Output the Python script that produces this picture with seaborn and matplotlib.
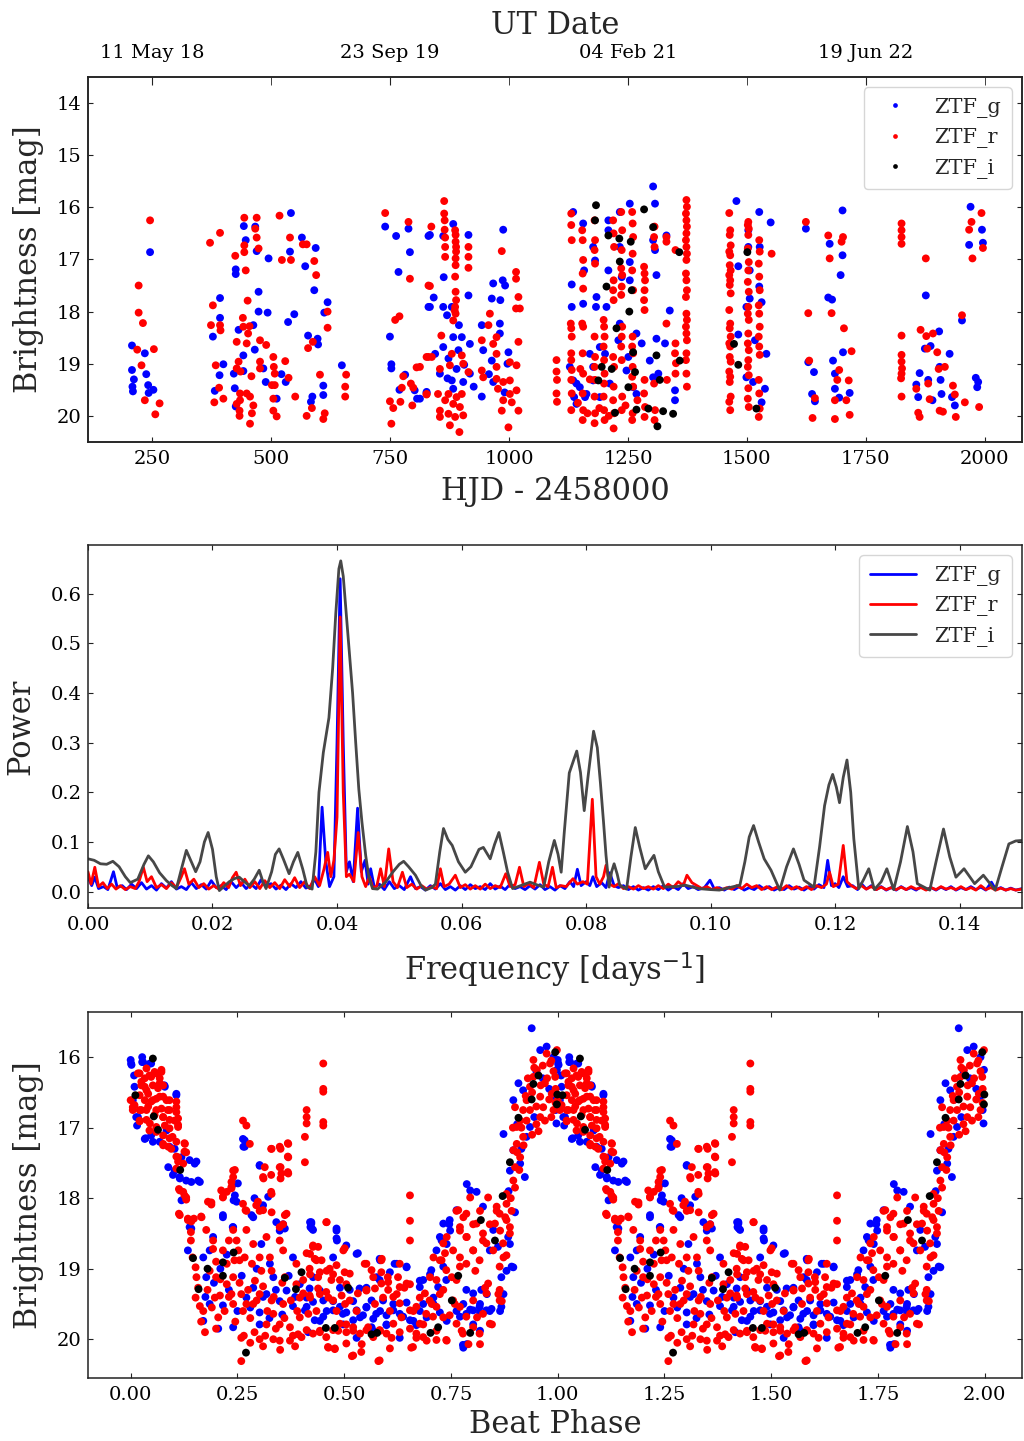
import pandas as pd
import seaborn as sns
import matplotlib.pyplot as plt

# light curve (HJD - 2458000, mag)
g_top = [
    (208, 18.65), (246, 16.86), (235, 18.8), (208, 19.12), (212, 19.3), (238, 19.2), (209, 19.44), (210, 19.53),
    (242, 19.41), (253, 19.5), (243, 19.56),
    (542, 16.11), (443, 16.36), (447, 16.63), (470, 16.84), (467, 16.37), (565, 16.58), (594, 16.78), (540, 16.85),
    (495, 16.98), (572, 17.13), (426, 17.19), (426, 17.28), (591, 17.59), (474, 17.62), (393, 17.74), (619, 17.82),
    (474, 18.0), (493, 18.02), (549, 18.05), (536, 18.2), (393, 18.12), (612, 18.02), (378, 18.48), (432, 18.35),
    (463, 18.26), (578, 18.46), (598, 18.52), (599, 18.63), (466, 18.73), (400, 19.01), (392, 19.22), (442, 18.84),
    (649, 19.03), (422, 19.19), (442, 19.14), (489, 19.35), (522, 19.2), (531, 19.35), (610, 19.42), (610, 19.6),
    (587, 19.63), (584, 19.73), (382, 19.52), (424, 19.47), (426, 19.82), (512, 19.67), (484, 19.09),
    (740, 16.37), (763, 16.55), (789, 16.41), (792, 16.86), (768, 17.24), (831, 17.91), (750, 18.48), (753, 19.01),
    (753, 19.09), (782, 19.21), (770, 19.5), (802, 19.51), (807, 19.67), (827, 19.56), (831, 16.55), (883, 16.32),
    (834, 16.53), (862, 16.55), (915, 16.53), (863, 17.34), (915, 17.69), (842, 17.73), (834, 17.91), (862, 17.91),
    (880, 17.91), (870, 18.07), (895, 18.26), (988, 16.43), (967, 17.46), (987, 17.4), (992, 17.5), (964, 17.75),
    (982, 17.78), (943, 18.26), (981, 18.23), (981, 18.42), (999, 18.78), (997, 19.0), (883, 18.49), (901, 18.49),
    (918, 18.62), (862, 18.68), (946, 18.74), (964, 18.94), (845, 18.81), (894, 18.74), (873, 18.9), (918, 19.19),
    (855, 19.19), (904, 19.35), (880, 19.32), (827, 19.54), (943, 19.63), (883, 19.48), (967, 19.35), (813, 19.67),
    (890, 19.1), (906, 19.02), (871, 19.28), (926, 19.44), (958, 19.2), (991, 19.55),
    (1132, 17.48), (1132, 17.91), (1128, 19.06), (1135, 19.32), (1137, 19.64), (1156, 17.85), (1158, 17.21),
    (1156, 16.31), (1135, 16.09), (1177, 16.76), (1181, 17.02), (1184, 17.72), (1183, 17.91), (1170, 18.81),
    (1177, 19.06), (1177, 19.32), (1163, 19.58), (1149, 19.45), (1160, 19.64), (1191, 18.68), (1202, 18.81),
    (1205, 17.91), (1209, 17.21), (1209, 16.25), (1209, 16.44), (1233, 16.09), (1233, 16.76), (1237, 17.34),
    (1233, 18.23), (1230, 18.55), (1254, 15.93), (1254, 17.05), (1254, 17.4), (1251, 18.87), (1247, 19.13),
    (1261, 19.45), (1268, 19.58), (1268, 18.42), (1279, 18.61), (1303, 15.6), (1307, 15.93), (1303, 16.63),
    (1307, 16.82), (1303, 19.26), (1296, 18.94), (1310, 17.3), (1310, 18.52), (1328, 18.61), (1331, 16.54),
    (1338, 17.98), (1349, 19.51), (1349, 19.7), (1314, 19.19), (1191, 19.64), (1212, 19.38), (1142, 19.38),
    (1142, 19.77),
    (1478, 15.88), (1526, 16.09), (1550, 16.29), (1503, 16.44), (1503, 16.76), (1527, 16.76), (1482, 17.13),
    (1506, 17.21), (1506, 17.75), (1531, 17.82), (1499, 17.91), (1526, 17.52), (1482, 18.44), (1517, 18.55),
    (1541, 18.81), (1499, 19.26), (1513, 19.35), (1538, 19.48), (1531, 19.74),
    (1624, 16.41), (1701, 16.06), (1674, 16.7), (1701, 16.92), (1697, 17.3), (1671, 17.73), (1679, 17.77),
    (1702, 18.78), (1629, 18.97), (1641, 19.16), (1681, 18.94), (1685, 19.19), (1685, 19.48), (1716, 19.56),
    (1637, 19.58), (1643, 19.72), (1694, 19.65),
    (1970, 15.99), (1994, 16.43), (1967, 16.72), (1996, 16.68), (1876, 17.69), (1904, 18.38), (1952, 18.17),
    (1874, 18.71), (1886, 18.66), (1926, 18.81), (1905, 19.06), (1863, 19.18), (1907, 19.31), (1856, 19.4),
    (1881, 19.31), (1981, 19.27), (1986, 19.35), (1984, 19.45), (1909, 19.58), (1860, 19.64), (1890, 19.7),
    (1931, 19.64), (1937, 19.8),
]
r_top = [
    (246, 16.25), (222, 17.5), (222, 18.02), (231, 18.22), (219, 18.73), (254, 18.72), (228, 19.03), (235, 19.7),
    (266, 19.76), (257, 19.97),
    (372, 16.68), (393, 16.49), (444, 16.2), (470, 16.2), (518, 16.16), (467, 16.41), (470, 16.58), (474, 16.79),
    (444, 16.73), (444, 16.86), (425, 16.93), (447, 17.21), (523, 17.01), (542, 17.01), (540, 16.58), (567, 16.71),
    (575, 16.71), (591, 17.03), (595, 17.3), (451, 17.79), (378, 17.88), (374, 18.26), (393, 18.26), (394, 18.36),
    (441, 18.12), (442, 18.29), (455, 18.28), (452, 18.42), (449, 18.61), (477, 18.55), (490, 18.64), (428, 18.58),
    (619, 18.0), (619, 18.31), (588, 18.58), (578, 18.7), (384, 19.03), (432, 18.96), (428, 19.09), (436, 19.15),
    (477, 18.96), (477, 19.09), (505, 18.87), (530, 18.95), (506, 19.06), (508, 19.19), (459, 19.24), (537, 19.27),
    (508, 19.41), (603, 19.21), (658, 19.21), (656, 19.44), (656, 19.63), (551, 19.63), (391, 19.46), (400, 19.67),
    (381, 19.74), (435, 19.57), (435, 19.7), (449, 19.57), (456, 19.63), (428, 19.77), (434, 19.9), (434, 20.0),
    (463, 19.8), (460, 19.95), (456, 20.15), (505, 19.67), (505, 19.9), (512, 20.01), (586, 19.85), (575, 20.0),
    (613, 19.95), (610, 20.06), (502, 19.41),
    (740, 16.11), (789, 16.28), (792, 17.37), (761, 18.16), (770, 18.09), (831, 17.5), (831, 18.87), (806, 19.07),
    (778, 19.24), (794, 19.38), (775, 19.46), (799, 19.46), (750, 19.72), (757, 19.85), (772, 19.73), (797, 19.8),
    (753, 20.15), (827, 19.59),
    (864, 15.88), (864, 16.12), (865, 16.25), (865, 16.43), (866, 16.58), (866, 16.76), (866, 16.95),
    (887, 16.44), (888, 16.53), (888, 16.66), (889, 16.76), (889, 16.85), (888, 16.98), (888, 17.11), (887, 17.33),
    (888, 17.62), (889, 17.78), (887, 17.91), (888, 18.04), (915, 16.76), (915, 16.95), (915, 17.16),
    (837, 16.37), (985, 16.84), (1015, 17.24), (1015, 17.37), (1020, 17.72), (1015, 17.94), (1023, 17.94),
    (834, 17.51), (886, 17.98), (883, 18.17), (960, 18.04), (957, 18.26), (974, 18.49), (858, 18.46), (967, 18.62),
    (1020, 18.58), (943, 18.55), (838, 18.87), (827, 18.87), (880, 18.81), (901, 18.84), (876, 19.03), (904, 19.0),
    (915, 19.16), (855, 19.1), (943, 19.13), (946, 19.26), (974, 18.81), (974, 19.06), (1002, 18.97), (1016, 19.03),
    (974, 19.29), (988, 19.35), (1002, 19.32), (1016, 19.51), (1002, 19.58), (977, 19.48), (988, 19.7),
    (1006, 19.74), (1020, 19.9), (985, 19.9), (999, 20.22), (851, 19.58), (873, 19.58), (890, 19.64), (901, 19.58),
    (866, 19.7), (883, 19.77), (897, 19.83), (855, 19.9), (873, 19.96), (887, 20.02), (904, 19.99), (876, 20.18),
    (896, 20.31), (855, 20.02), (827, 19.58), (813, 19.06),
    (1100, 18.93), (1100, 19.15), (1101, 19.31), (1100, 19.57), (1101, 19.73),
    (1131, 16.12), (1131, 16.34), (1132, 16.63), (1130, 18.23), (1131, 18.32), (1132, 18.48), (1131, 18.8),
    (1131, 18.93), (1132, 19.12), (1131, 19.31), (1132, 19.57), (1131, 19.89),
    (1154, 16.44), (1155, 16.63), (1156, 17.01), (1155, 17.27), (1156, 17.56), (1154, 18.23), (1156, 18.29),
    (1155, 18.8), (1156, 19.19), (1155, 19.57), (1156, 19.89), (1155, 20.08),
    (1180, 16.25), (1181, 16.63), (1180, 16.82), (1181, 17.08), (1180, 18.48), (1181, 18.87), (1180, 19.06),
    (1181, 19.31), (1180, 19.63), (1181, 19.95), (1180, 20.14),
    (1199, 18.16), (1200, 18.29), (1201, 18.48), (1199, 18.67), (1200, 18.93), (1201, 19.19), (1200, 19.38),
    (1199, 19.63), (1200, 19.89), (1201, 20.08),
    (1219, 16.25), (1220, 16.5), (1221, 16.76), (1220, 17.4), (1219, 17.59), (1220, 17.78), (1219, 18.87),
    (1221, 19.06), (1220, 19.44), (1219, 19.7), (1221, 19.95), (1220, 20.24),
    (1236, 16.09), (1238, 16.44), (1237, 16.82), (1236, 17.17), (1238, 17.3), (1237, 17.52), (1236, 17.68),
    (1238, 18.29), (1237, 18.48), (1236, 18.67), (1237, 18.93), (1238, 19.63), (1237, 19.89),
    (1259, 16.09), (1260, 16.31), (1261, 16.57), (1260, 16.89), (1259, 17.21), (1261, 17.59), (1260, 18.48),
    (1259, 18.67), (1261, 18.8), (1260, 19.06), (1259, 19.25), (1261, 19.44), (1260, 19.95), (1259, 20.08),
    (1284, 17.14), (1285, 17.27), (1286, 17.4), (1285, 17.59), (1284, 17.78), (1285, 17.97), (1285, 19.31),
    (1284, 19.57), (1286, 19.83), (1285, 20.02),
    (1306, 16.37), (1305, 16.57), (1306, 16.76), (1305, 19.38), (1307, 19.89), (1306, 20.08),
    (1331, 16.57), (1331, 16.66), (1331, 18.23), (1332, 19.31), (1350, 16.82), (1350, 18.61), (1349, 18.8),
    (1351, 18.99), (1350, 19.19),
    (1373, 15.86), (1374, 15.99), (1372, 16.12), (1373, 16.25), (1374, 16.37), (1373, 16.5), (1372, 16.63),
    (1373, 16.76), (1374, 16.89), (1373, 17.01), (1372, 17.27), (1373, 17.4), (1374, 17.59), (1372, 17.72),
    (1373, 18.04), (1374, 18.16), (1372, 18.29), (1373, 18.42), (1374, 18.55), (1373, 18.8), (1372, 18.93),
    (1373, 19.19), (1374, 19.44),
    (1145, 19.75), (1165, 19.95), (1190, 19.85), (1210, 20.0), (1245, 19.8), (1270, 19.7), (1150, 19.1),
    (1170, 19.3),
    (1463, 16.11), (1465, 16.44), (1464, 16.53), (1466, 16.73), (1463, 16.85), (1465, 16.92), (1464, 17.11),
    (1466, 17.21), (1463, 17.3), (1465, 17.4), (1464, 17.49), (1466, 17.65), (1463, 17.97), (1465, 18.23),
    (1464, 18.32), (1466, 18.48), (1463, 18.61), (1465, 18.67), (1464, 18.87), (1466, 18.96), (1463, 19.15),
    (1465, 19.25), (1464, 19.35), (1466, 19.63), (1463, 19.73), (1465, 19.89),
    (1503, 16.28), (1502, 16.34), (1504, 16.41), (1503, 16.53), (1502, 16.79), (1504, 17.05), (1503, 17.21),
    (1502, 17.43), (1504, 17.62), (1503, 17.91), (1502, 18.04), (1504, 18.16), (1503, 18.42), (1502, 18.61),
    (1504, 18.74), (1503, 18.93), (1502, 19.06), (1504, 19.22), (1503, 19.47), (1502, 19.67), (1504, 19.83),
    (1526, 16.63), (1527, 16.85), (1525, 17.08), (1526, 17.33), (1527, 17.59), (1525, 17.88), (1526, 18.04),
    (1527, 18.29), (1525, 18.48), (1526, 18.67), (1527, 18.83), (1525, 19.31), (1526, 19.57), (1527, 19.86),
    (1525, 20.02), (1552, 16.89),
    (1624, 16.28), (1671, 16.54), (1702, 16.57), (1699, 16.66), (1674, 16.98), (1629, 18.03), (1678, 18.03),
    (1704, 18.32), (1631, 18.94), (1694, 19.12), (1690, 19.31), (1714, 19.32), (1720, 18.76), (1643, 19.66),
    (1685, 19.7), (1709, 19.7), (1638, 20.04), (1685, 20.06), (1716, 19.98),
    (1825, 16.31), (1825, 16.44), (1825, 16.57), (1825, 16.7), (1825, 18.46), (1825, 18.83), (1825, 18.96),
    (1826, 19.09), (1825, 19.19), (1824, 19.28), (1825, 19.63), (1876, 16.98), (1952, 18.07), (1865, 18.35),
    (1877, 18.47), (1891, 18.42), (1879, 18.71), (1900, 18.78), (1903, 19.1), (1916, 19.06), (1856, 19.48),
    (1881, 19.38), (1933, 19.42), (1884, 19.68), (1905, 19.9), (1912, 19.92), (1937, 19.59), (1958, 19.74),
    (1860, 19.94), (1863, 20.02), (1939, 20.02), (1988, 19.83), (1972, 16.28), (1967, 16.43), (1993, 16.11),
    (1996, 16.78), (1974, 16.98),
]
i_top = [
    (1183, 15.96), (1181, 16.25), (1209, 16.54), (1232, 16.6), (1256, 16.66), (1303, 16.38), (1284, 16.04),
    (1233, 17.04), (1205, 17.52), (1258, 17.59), (1253, 18.0), (1226, 18.32), (1261, 18.78), (1195, 19.06),
    (1216, 19.1), (1188, 19.32), (1265, 19.16), (1310, 18.84), (1359, 18.94), (1358, 16.86), (1251, 19.45),
    (1223, 19.94), (1268, 19.88), (1293, 19.86), (1324, 19.91), (1345, 19.96), (1312, 20.2), (1317, 19.31),
    (1501, 16.86), (1473, 18.62), (1482, 19.02), (1520, 19.86),
]

# Lomb-Scargle periodogram vertices (frequency [1/d], power)
g_pg = [
    (0.0000, 0.030), (0.0006, 0.012), (0.0011, 0.029), (0.0017, 0.006), (0.0025, 0.010), (0.0032, 0.004),
    (0.0041, 0.040), (0.0047, 0.008), (0.0055, 0.012), (0.0062, 0.004), (0.0070, 0.015), (0.0078, 0.006),
    (0.0086, 0.018), (0.0094, 0.005), (0.0102, 0.012), (0.0110, 0.003), (0.0118, 0.016), (0.0126, 0.007),
    (0.0134, 0.020), (0.0142, 0.005), (0.0150, 0.010), (0.0158, 0.004), (0.0166, 0.018), (0.0174, 0.006),
    (0.0182, 0.014), (0.0190, 0.005), (0.0198, 0.022), (0.0206, 0.008), (0.0214, 0.012), (0.0222, 0.004),
    (0.0230, 0.020), (0.0238, 0.008), (0.0246, 0.018), (0.0254, 0.006), (0.0262, 0.015), (0.0270, 0.006),
    (0.0278, 0.024), (0.0286, 0.010), (0.0294, 0.016), (0.0302, 0.005), (0.0310, 0.013), (0.0318, 0.004),
    (0.0326, 0.016), (0.0334, 0.008), (0.0342, 0.020), (0.0350, 0.007), (0.0358, 0.012), (0.0364, 0.025),
    (0.0370, 0.010), (0.0376, 0.170), (0.0382, 0.060), (0.0388, 0.010), (0.0395, 0.030), (0.0400, 0.300),
    (0.0405, 0.630), (0.0410, 0.300), (0.0415, 0.040), (0.0420, 0.060), (0.0426, 0.020), (0.0433, 0.168),
    (0.0439, 0.040), (0.0445, 0.063), (0.0450, 0.015), (0.0454, 0.046), (0.0460, 0.008), (0.0468, 0.015),
    (0.0476, 0.004), (0.0484, 0.020), (0.0492, 0.006), (0.0500, 0.012), (0.0508, 0.004), (0.0518, 0.030),
    (0.0526, 0.006), (0.0534, 0.010), (0.0542, 0.003), (0.0550, 0.012), (0.0558, 0.005), (0.0566, 0.016),
    (0.0574, 0.004), (0.0582, 0.010), (0.0590, 0.003), (0.0598, 0.012), (0.0606, 0.004), (0.0614, 0.014),
    (0.0622, 0.006), (0.0630, 0.010), (0.0638, 0.004), (0.0646, 0.016), (0.0654, 0.005), (0.0662, 0.011),
    (0.0670, 0.004), (0.0678, 0.015), (0.0686, 0.006), (0.0694, 0.010), (0.0702, 0.004), (0.0710, 0.012),
    (0.0718, 0.005), (0.0726, 0.014), (0.0734, 0.004), (0.0742, 0.010), (0.0750, 0.003), (0.0758, 0.012),
    (0.0766, 0.006), (0.0774, 0.020), (0.0780, 0.010), (0.0786, 0.045), (0.0792, 0.012), (0.0800, 0.020),
    (0.0806, 0.012), (0.0811, 0.030), (0.0817, 0.010), (0.0825, 0.018), (0.0832, 0.008), (0.0838, 0.038),
    (0.0845, 0.012), (0.0852, 0.008), (0.0860, 0.012), (0.0868, 0.004), (0.0876, 0.010), (0.0884, 0.003),
    (0.0892, 0.008), (0.0900, 0.003), (0.0908, 0.010), (0.0916, 0.004), (0.0924, 0.012), (0.0932, 0.003),
    (0.0940, 0.010), (0.0948, 0.004), (0.0956, 0.016), (0.0964, 0.006), (0.0972, 0.010), (0.0980, 0.004),
    (0.0990, 0.008), (0.0999, 0.023), (0.1006, 0.005), (0.1014, 0.008), (0.1022, 0.003), (0.1030, 0.009),
    (0.1038, 0.004), (0.1046, 0.010), (0.1054, 0.003), (0.1062, 0.008), (0.1070, 0.004), (0.1078, 0.012),
    (0.1086, 0.005), (0.1094, 0.010), (0.1102, 0.003), (0.1110, 0.008), (0.1118, 0.004), (0.1126, 0.012),
    (0.1134, 0.005), (0.1142, 0.009), (0.1150, 0.003), (0.1158, 0.010), (0.1166, 0.005), (0.1174, 0.014),
    (0.1182, 0.008), (0.1188, 0.063), (0.1194, 0.012), (0.1200, 0.016), (0.1206, 0.008), (0.1213, 0.030),
    (0.1220, 0.010), (0.1228, 0.012), (0.1236, 0.004), (0.1242, 0.016), (0.1250, 0.005), (0.1258, 0.012),
    (0.1266, 0.004), (0.1274, 0.010), (0.1282, 0.003), (0.1290, 0.008), (0.1298, 0.003), (0.1306, 0.010),
    (0.1314, 0.004), (0.1322, 0.008), (0.1330, 0.003), (0.1338, 0.010), (0.1346, 0.004), (0.1354, 0.008),
    (0.1362, 0.003), (0.1370, 0.009), (0.1378, 0.004), (0.1386, 0.010), (0.1394, 0.003), (0.1402, 0.008),
    (0.1410, 0.004), (0.1418, 0.010), (0.1426, 0.004), (0.1434, 0.009), (0.1442, 0.003), (0.1451, 0.019),
    (0.1458, 0.004), (0.1466, 0.008), (0.1474, 0.003), (0.1482, 0.007), (0.1490, 0.003), (0.1500, 0.006),
]
r_pg = [
    (0.0000, 0.040), (0.0005, 0.015), (0.0011, 0.049), (0.0017, 0.010), (0.0024, 0.018), (0.0031, 0.006),
    (0.0038, 0.015), (0.0045, 0.005), (0.0052, 0.012), (0.0060, 0.004), (0.0068, 0.010), (0.0076, 0.006),
    (0.0082, 0.020), (0.0089, 0.049), (0.0095, 0.020), (0.0102, 0.030), (0.0110, 0.008), (0.0118, 0.014),
    (0.0126, 0.006), (0.0134, 0.018), (0.0142, 0.008), (0.0150, 0.030), (0.0155, 0.046), (0.0162, 0.015),
    (0.0170, 0.025), (0.0178, 0.008), (0.0186, 0.016), (0.0194, 0.005), (0.0202, 0.012), (0.0210, 0.005),
    (0.0218, 0.018), (0.0226, 0.008), (0.0232, 0.028), (0.0238, 0.039), (0.0245, 0.012), (0.0252, 0.025),
    (0.0260, 0.008), (0.0268, 0.020), (0.0276, 0.006), (0.0284, 0.022), (0.0292, 0.008), (0.0300, 0.018),
    (0.0308, 0.006), (0.0316, 0.024), (0.0324, 0.010), (0.0332, 0.028), (0.0340, 0.008), (0.0348, 0.020),
    (0.0356, 0.006), (0.0364, 0.030), (0.0372, 0.012), (0.0379, 0.045), (0.0385, 0.079), (0.0390, 0.030),
    (0.0395, 0.063), (0.0400, 0.150), (0.0405, 0.553), (0.0410, 0.200), (0.0415, 0.030), (0.0420, 0.035),
    (0.0427, 0.020), (0.0434, 0.119), (0.0440, 0.030), (0.0446, 0.010), (0.0452, 0.030), (0.0458, 0.006),
    (0.0464, 0.012), (0.0470, 0.046), (0.0476, 0.010), (0.0483, 0.086), (0.0490, 0.020), (0.0497, 0.008),
    (0.0505, 0.039), (0.0512, 0.008), (0.0520, 0.015), (0.0528, 0.005), (0.0536, 0.012), (0.0544, 0.005),
    (0.0552, 0.010), (0.0560, 0.006), (0.0566, 0.046), (0.0572, 0.010), (0.0580, 0.015), (0.0590, 0.033),
    (0.0598, 0.008), (0.0606, 0.014), (0.0614, 0.005), (0.0622, 0.012), (0.0630, 0.005), (0.0638, 0.015),
    (0.0646, 0.006), (0.0654, 0.012), (0.0662, 0.008), (0.0671, 0.036), (0.0678, 0.010), (0.0686, 0.014),
    (0.0693, 0.049), (0.0700, 0.010), (0.0708, 0.016), (0.0716, 0.008), (0.0725, 0.059), (0.0732, 0.015),
    (0.0739, 0.010), (0.0746, 0.049), (0.0752, 0.008), (0.0760, 0.012), (0.0768, 0.010), (0.0779, 0.026),
    (0.0786, 0.015), (0.0795, 0.020), (0.0802, 0.015), (0.0810, 0.186), (0.0816, 0.030), (0.0822, 0.015),
    (0.0828, 0.030), (0.0832, 0.053), (0.0838, 0.015), (0.0845, 0.010), (0.0852, 0.016), (0.0860, 0.006),
    (0.0868, 0.010), (0.0876, 0.005), (0.0884, 0.012), (0.0892, 0.006), (0.0900, 0.010), (0.0908, 0.005),
    (0.0916, 0.012), (0.0924, 0.006), (0.0932, 0.015), (0.0940, 0.008), (0.0948, 0.020), (0.0956, 0.012),
    (0.0962, 0.033), (0.0970, 0.018), (0.0978, 0.012), (0.0986, 0.006), (0.0994, 0.010), (0.1002, 0.004),
    (0.1010, 0.008), (0.1018, 0.004), (0.1026, 0.008), (0.1034, 0.005), (0.1042, 0.012), (0.1050, 0.006),
    (0.1058, 0.015), (0.1066, 0.008), (0.1074, 0.012), (0.1082, 0.004), (0.1090, 0.010), (0.1098, 0.004),
    (0.1106, 0.009), (0.1114, 0.004), (0.1122, 0.012), (0.1130, 0.005), (0.1138, 0.010), (0.1146, 0.004),
    (0.1154, 0.010), (0.1162, 0.004), (0.1170, 0.012), (0.1178, 0.008), (0.1186, 0.015), (0.1191, 0.039),
    (0.1197, 0.010), (0.1205, 0.015), (0.1213, 0.093), (0.1219, 0.020), (0.1226, 0.012), (0.1234, 0.006),
    (0.1242, 0.012), (0.1250, 0.005), (0.1258, 0.010), (0.1266, 0.004), (0.1274, 0.009), (0.1282, 0.004),
    (0.1290, 0.008), (0.1298, 0.004), (0.1306, 0.009), (0.1314, 0.004), (0.1322, 0.010), (0.1330, 0.005),
    (0.1338, 0.008), (0.1346, 0.003), (0.1354, 0.008), (0.1362, 0.004), (0.1370, 0.010), (0.1378, 0.005),
    (0.1386, 0.008), (0.1394, 0.004), (0.1402, 0.010), (0.1410, 0.004), (0.1418, 0.008), (0.1426, 0.003),
    (0.1434, 0.012), (0.1442, 0.004), (0.1450, 0.008), (0.1458, 0.003), (0.1466, 0.007), (0.1474, 0.003),
    (0.1482, 0.006), (0.1490, 0.003), (0.1500, 0.005),
]
i_pg = [
    (0.0000, 0.066), (0.0010, 0.063), (0.0020, 0.056), (0.0030, 0.055), (0.0040, 0.061), (0.0050, 0.050),
    (0.0060, 0.030), (0.0068, 0.018), (0.0080, 0.025), (0.0090, 0.055), (0.0097, 0.072), (0.0105, 0.060),
    (0.0115, 0.038), (0.0126, 0.022), (0.0135, 0.012), (0.0142, 0.006), (0.0150, 0.045), (0.0158, 0.083),
    (0.0166, 0.060), (0.0173, 0.040), (0.0180, 0.060), (0.0187, 0.100), (0.0193, 0.119), (0.0200, 0.085),
    (0.0206, 0.030), (0.0211, 0.002), (0.0220, 0.012), (0.0227, 0.020), (0.0235, 0.026), (0.0243, 0.029),
    (0.0251, 0.020), (0.0259, 0.012), (0.0267, 0.025), (0.0275, 0.043), (0.0281, 0.020), (0.0286, 0.006),
    (0.0295, 0.040), (0.0301, 0.075), (0.0307, 0.086), (0.0314, 0.065), (0.0323, 0.036), (0.0330, 0.060),
    (0.0337, 0.079), (0.0345, 0.045), (0.0352, 0.010), (0.0360, 0.005), (0.0366, 0.080), (0.0371, 0.200),
    (0.0378, 0.280), (0.0387, 0.350), (0.0393, 0.450), (0.0398, 0.560), (0.0403, 0.650), (0.0406, 0.666),
    (0.0410, 0.635), (0.0414, 0.573), (0.0420, 0.480), (0.0425, 0.400), (0.0430, 0.300), (0.0435, 0.206),
    (0.0440, 0.140), (0.0446, 0.073), (0.0451, 0.030), (0.0457, 0.006), (0.0465, 0.005), (0.0478, 0.019),
    (0.0490, 0.040), (0.0500, 0.055), (0.0507, 0.061), (0.0515, 0.050), (0.0526, 0.033), (0.0535, 0.012),
    (0.0542, 0.003), (0.0552, 0.008), (0.0558, 0.015), (0.0565, 0.080), (0.0571, 0.127), (0.0578, 0.105),
    (0.0585, 0.093), (0.0595, 0.060), (0.0606, 0.039), (0.0615, 0.050), (0.0628, 0.085), (0.0635, 0.089),
    (0.0646, 0.066), (0.0653, 0.095), (0.0660, 0.119), (0.0667, 0.080), (0.0674, 0.039), (0.0682, 0.006),
    (0.0695, 0.012), (0.0710, 0.019), (0.0720, 0.014), (0.0732, 0.009), (0.0740, 0.060), (0.0749, 0.103),
    (0.0755, 0.075), (0.0760, 0.039), (0.0765, 0.120), (0.0773, 0.239), (0.0785, 0.283), (0.0791, 0.240),
    (0.0797, 0.163), (0.0803, 0.230), (0.0812, 0.323), (0.0818, 0.290), (0.0823, 0.219), (0.0828, 0.140),
    (0.0832, 0.073), (0.0837, 0.009), (0.0841, 0.040), (0.0845, 0.056), (0.0850, 0.035), (0.0854, 0.013),
    (0.0865, 0.005), (0.0872, 0.070), (0.0879, 0.129), (0.0886, 0.090), (0.0895, 0.046), (0.0902, 0.060),
    (0.0909, 0.073), (0.0916, 0.040), (0.0926, 0.009), (0.0945, 0.010), (0.0959, 0.013), (0.0981, 0.006),
    (0.1000, 0.004), (0.1014, 0.003), (0.1030, 0.008), (0.1047, 0.013), (0.1055, 0.060), (0.1062, 0.110),
    (0.1069, 0.133), (0.1077, 0.100), (0.1086, 0.066), (0.1097, 0.043), (0.1111, 0.003), (0.1122, 0.050),
    (0.1133, 0.086), (0.1142, 0.055), (0.1150, 0.023), (0.1166, 0.009), (0.1175, 0.090), (0.1183, 0.173),
    (0.1190, 0.215), (0.1196, 0.236), (0.1202, 0.210), (0.1207, 0.179), (0.1213, 0.230), (0.1219, 0.265),
    (0.1225, 0.200), (0.1230, 0.106), (0.1238, 0.006), (0.1246, 0.025), (0.1254, 0.046), (0.1263, 0.004),
    (0.1274, 0.020), (0.1283, 0.046), (0.1294, 0.004), (0.1305, 0.060), (0.1316, 0.131), (0.1325, 0.080),
    (0.1332, 0.016), (0.1352, 0.003), (0.1362, 0.060), (0.1374, 0.126), (0.1384, 0.070), (0.1394, 0.029),
    (0.1407, 0.046), (0.1424, 0.016), (0.1438, 0.033), (0.1457, 0.003), (0.1468, 0.050), (0.1479, 0.096),
    (0.1490, 0.102), (0.1500, 0.103),
]

# folded light curve (beat phase 0-1, mag); shown twice, 0-2
g_phase = [
    (0.0, 16.04), (0.001, 16.09), (0.027, 16.0), (0.029, 16.07), (0.045, 16.09), (0.008, 16.26), (0.009, 16.42),
    (0.005, 16.61), (0.013, 16.85), (0.015, 16.97), (0.033, 17.16), (0.048, 17.11), (0.068, 17.2), (0.084, 17.04),
    (0.107, 16.52), (0.08, 16.42), (0.088, 17.56), (0.103, 17.61), (0.115, 17.7), (0.13, 17.75), (0.142, 17.77),
    (0.158, 17.75), (0.119, 18.03), (0.15, 17.51), (0.138, 17.46), (0.119, 17.42), (0.091, 17.27),
    (0.002, 16.11), (0.027, 16.07), (0.048, 16.09), (0.079, 16.4), (0.107, 16.54), (0.017, 16.85), (0.035, 17.15),
    (0.052, 17.2), (0.103, 17.3), (0.154, 17.48), (0.099, 17.67), (0.115, 17.72), (0.162, 17.77),
    (0.267, 17.18), (0.267, 17.27), (0.302, 17.53), (0.251, 17.79), (0.244, 17.96), (0.248, 18.05), (0.29, 18.0),
    (0.322, 17.98), (0.31, 18.1), (0.283, 18.24), (0.216, 18.24), (0.142, 18.43), (0.24, 18.41), (0.341, 18.34),
    (0.361, 18.43), (0.423, 18.34), (0.424, 18.43), (0.482, 18.43),
    (0.873, 17.09), (0.888, 17.61), (0.896, 17.32), (0.912, 17.51), (0.923, 17.7), (0.927, 17.13), (0.935, 16.99),
    (0.919, 16.47), (0.908, 16.37), (0.896, 16.61), (0.959, 15.9), (0.974, 15.85), (0.99, 16.0), (0.998, 16.18),
    (0.997, 16.94), (0.939, 15.59), (0.888, 18.65), (0.896, 18.98), (0.873, 19.36), (0.865, 19.6), (0.88, 19.03),
    (0.841, 18.74), (0.834, 19.36), (0.818, 19.62), (0.802, 19.79), (0.787, 20.07), (0.787, 17.8), (0.795, 17.89),
    (0.81, 17.91), (0.746, 18.37), (0.748, 18.46), (0.74, 18.65), (0.728, 18.6), (0.716, 18.74), (0.677, 19.17),
    (0.701, 19.08), (0.646, 18.98), (0.623, 18.93), (0.584, 18.88), (0.576, 19.12), (0.552, 19.27), (0.529, 18.79),
    (0.482, 18.46), (0.483, 18.6), (0.474, 18.84), (0.42, 18.34), (0.421, 18.41), (0.38, 18.84), (0.357, 18.37),
    (0.349, 18.46), (0.326, 18.93), (0.306, 18.65), (0.287, 18.27), (0.302, 17.54), (0.263, 17.16), (0.264, 17.27),
    (0.24, 17.8), (0.241, 18.03), (0.239, 18.41), (0.216, 18.27), (0.193, 18.55), (0.185, 18.74), (0.17, 18.84),
    (0.177, 19.12), (0.138, 18.41), (0.134, 18.74), (0.17, 19.74), (0.185, 19.5), (0.216, 19.52), (0.24, 19.83),
    (0.271, 19.41), (0.287, 19.27), (0.302, 19.62), (0.318, 19.36), (0.334, 19.12), (0.349, 19.46), (0.365, 19.31),
    (0.38, 19.53), (0.396, 19.22), (0.412, 19.41), (0.427, 19.12), (0.443, 19.31), (0.459, 19.6), (0.474, 19.46),
    (0.49, 19.27), (0.505, 19.62), (0.521, 19.46), (0.537, 19.69), (0.552, 19.55), (0.568, 19.71), (0.584, 19.6),
    (0.599, 19.79), (0.615, 19.5), (0.63, 19.64), (0.646, 19.48), (0.662, 19.74), (0.677, 19.6), (0.693, 19.69),
    (0.709, 19.5), (0.724, 19.62), (0.74, 19.74), (0.763, 19.6), (0.779, 19.5), (0.795, 19.58), (0.818, 19.5),
    (0.841, 19.6), (0.709, 19.41), (0.685, 19.5), (0.818, 19.88), (0.779, 20.12), (0.568, 19.88), (0.529, 19.98),
    (0.498, 19.79), (0.63, 19.98), (0.443, 19.74), (0.302, 19.79),
    (0.423, 18.36), (0.427, 18.45), (0.482, 18.57), (0.505, 18.67), (0.532, 18.78), (0.583, 18.86), (0.618, 18.93),
    (0.646, 18.97), (0.607, 19.05), (0.583, 19.16), (0.536, 19.28), (0.513, 19.3), (0.564, 19.45), (0.591, 19.45),
    (0.552, 19.54), (0.529, 19.59), (0.575, 19.64), (0.599, 19.66), (0.615, 19.59), (0.638, 19.68), (0.685, 19.16),
    (0.704, 19.02), (0.677, 19.26), (0.72, 19.26), (0.732, 18.97), (0.739, 19.16), (0.724, 18.55), (0.732, 18.36),
    (0.747, 18.31), (0.763, 18.17), (0.825, 18.12), (0.849, 18.45), (0.86, 18.69), (0.884, 18.55), (0.892, 18.97),
    (0.868, 19.12), (0.868, 19.54), (0.802, 19.59), (0.817, 19.54), (0.833, 19.59), (0.845, 19.57), (0.786, 19.64),
    (0.771, 19.68), (0.786, 19.3), (0.802, 19.35), (0.821, 19.3), (0.778, 20.08), (0.654, 19.73), (0.669, 19.8),
    (0.451, 19.45), (0.427, 19.47), (0.412, 19.54), (0.419, 19.28), (0.408, 19.59), (0.431, 19.73), (0.451, 19.68),
    (0.474, 19.59), (0.497, 19.64), (0.521, 19.73), (0.544, 19.66), (0.49, 19.54), (0.416, 19.9), (0.564, 19.83),
    (0.599, 19.8),
    (0.95, 16.2), (0.965, 16.3), (0.98, 16.45), (0.93, 16.6), (0.945, 16.85), (0.99, 16.55), (0.905, 16.95),
    (0.915, 17.3), (0.885, 17.9), (0.9, 18.2), (0.995, 16.75),
    (0.175, 19.4), (0.195, 19.2), (0.205, 19.85), (0.23, 19.3), (0.25, 19.6), (0.26, 19.1), (0.28, 19.55),
    (0.295, 19.0), (0.31, 19.4), (0.325, 19.7), (0.34, 19.3), (0.355, 19.65), (0.37, 19.1), (0.385, 19.4),
    (0.21, 19.0), (0.225, 18.8),
]
r_phase = [
    (0.0, 16.61), (0.005, 16.71), (0.017, 16.23), (0.025, 16.35), (0.033, 16.42), (0.037, 16.16), (0.041, 16.52),
    (0.048, 16.28), (0.06, 16.23), (0.072, 16.21), (0.068, 16.37), (0.068, 16.56), (0.052, 16.61), (0.021, 16.75),
    (0.037, 16.75), (0.06, 16.75), (0.084, 16.61), (0.076, 16.85), (0.091, 16.75), (0.107, 16.71), (0.103, 16.9),
    (0.111, 16.99), (0.045, 16.94), (0.06, 16.99), (0.08, 16.97), (0.021, 16.9), (0.076, 17.23), (0.088, 17.27),
    (0.098, 17.13), (0.127, 17.23), (0.13, 17.35), (0.111, 17.42), (0.123, 17.51), (0.113, 17.87), (0.123, 17.91),
    (0.13, 17.99), (0.113, 18.22), (0.134, 18.29), (0.148, 18.29), (0.166, 18.27), (0.141, 18.48), (0.141, 18.6),
    (0.145, 18.84), (0.152, 18.98), (0.154, 19.12), (0.152, 19.41), (0.162, 19.53), (0.17, 19.6), (0.174, 19.9),
    (0.158, 19.27), (0.177, 18.45), (0.185, 19.03), (0.189, 18.06), (0.193, 18.6), (0.193, 18.72), (0.2, 19.12),
    (0.197, 19.41), (0.209, 19.38), (0.205, 19.69), (0.216, 17.99), (0.216, 18.74), (0.225, 18.93), (0.225, 19.22),
    (0.225, 17.91), (0.236, 17.84), (0.24, 17.61), (0.24, 17.7), (0.24, 18.45), (0.243, 18.88), (0.24, 19.12),
    (0.236, 19.36), (0.24, 19.5), (0.248, 18.6), (0.252, 18.74), (0.255, 18.88), (0.259, 19.36), (0.263, 16.9),
    (0.271, 16.97), (0.279, 17.23), (0.263, 18.08), (0.271, 18.45), (0.271, 18.18), (0.267, 18.84), (0.263, 19.6),
    (0.259, 19.98), (0.259, 20.31), (0.271, 19.5), (0.287, 18.65), (0.284, 18.93), (0.287, 19.5), (0.291, 19.17),
    (0.302, 18.18), (0.302, 18.84), (0.306, 19.03), (0.302, 19.36), (0.302, 20.0), (0.31, 17.7), (0.314, 17.56),
    (0.33, 17.3), (0.33, 17.94), (0.33, 18.2), (0.318, 18.55), (0.318, 19.79), (0.326, 18.84), (0.33, 19.03),
    (0.33, 19.45), (0.334, 19.64), (0.349, 17.27), (0.349, 17.56), (0.353, 17.65), (0.349, 18.41), (0.349, 18.6),
    (0.357, 18.74), (0.365, 18.22), (0.369, 17.23), (0.369, 17.42), (0.369, 17.65), (0.361, 19.12), (0.357, 19.5),
    (0.349, 19.79), (0.334, 20.0), (0.349, 20.02), (0.373, 19.83), (0.373, 20.02), (0.388, 18.93), (0.388, 19.22),
    (0.396, 19.41), (0.396, 19.69), (0.392, 19.93), (0.408, 17.49), (0.408, 17.13), (0.412, 16.75), (0.412, 16.85),
    (0.412, 16.94), (0.42, 18.79), (0.42, 19.08), (0.42, 19.41), (0.416, 19.64), (0.427, 18.69), (0.435, 18.88),
    (0.439, 19.12), (0.443, 19.36), (0.435, 19.6), (0.443, 19.88), (0.451, 16.09), (0.451, 16.45), (0.451, 16.49),
    (0.451, 16.92), (0.451, 16.97), (0.459, 18.34), (0.459, 19.03), (0.463, 19.41), (0.463, 20.12), (0.474, 19.08),
    (0.478, 20.14), (0.482, 19.6), (0.486, 19.88), (0.498, 18.74), (0.505, 19.22), (0.502, 19.5), (0.505, 19.79),
    (0.518, 20.24), (0.521, 19.88), (0.529, 19.6), (0.541, 20.07), (0.548, 18.93), (0.552, 19.31), (0.556, 19.83),
    (0.568, 19.12), (0.572, 19.5), (0.58, 20.31), (0.584, 19.88), (0.588, 18.86), (0.591, 19.41), (0.602, 19.12),
    (0.607, 19.6), (0.611, 19.98), (0.623, 19.36), (0.63, 18.93), (0.634, 19.69), (0.641, 19.27), (0.654, 17.96),
    (0.654, 18.32), (0.654, 18.6), (0.654, 19.22), (0.657, 20.12), (0.662, 19.6), (0.669, 19.98), (0.677, 19.41),
    (0.685, 19.79), (0.693, 20.02), (0.701, 19.12), (0.705, 19.5), (0.709, 18.84), (0.716, 19.88), (0.724, 19.36),
    (0.728, 18.88), (0.732, 19.69), (0.74, 20.02), (0.74, 18.55), (0.752, 19.12), (0.755, 18.74), (0.759, 19.5),
    (0.763, 18.18), (0.771, 18.46), (0.771, 18.84), (0.775, 19.88), (0.779, 18.27), (0.787, 18.55), (0.791, 20.07),
    (0.795, 17.99), (0.802, 18.37), (0.802, 18.74), (0.807, 19.03), (0.811, 19.69), (0.818, 20.07), (0.818, 18.18),
    (0.825, 18.6), (0.83, 19.27), (0.837, 17.99), (0.841, 18.37), (0.846, 19.79), (0.849, 18.74), (0.857, 18.18),
    (0.861, 19.36), (0.865, 18.46), (0.869, 19.46), (0.873, 18.84), (0.877, 18.27), (0.88, 17.94), (0.888, 18.41),
    (0.892, 18.18), (0.896, 17.75), (0.9, 17.56), (0.896, 17.32), (0.904, 17.23), (0.912, 17.42), (0.904, 16.99),
    (0.9, 16.71), (0.912, 16.9), (0.919, 16.75), (0.927, 16.61), (0.935, 16.42), (0.943, 16.28), (0.943, 16.04),
    (0.951, 16.18), (0.959, 16.56), (0.966, 16.71), (0.97, 16.37), (0.974, 15.95), (0.982, 16.09), (0.986, 16.52),
    (0.99, 16.75), (0.994, 16.28), (0.998, 15.9), (0.959, 16.85), (0.927, 16.9), (0.919, 17.13),
    (0.021, 16.23), (0.033, 16.3), (0.044, 16.26), (0.056, 16.21), (0.072, 16.18), (0.068, 16.3), (0.025, 16.4),
    (0.037, 16.47), (0.052, 16.4), (0.064, 16.44), (0.076, 16.4), (0.021, 16.54), (0.033, 16.61), (0.048, 16.63),
    (0.06, 16.59), (0.076, 16.56), (0.091, 16.61), (0.107, 16.63), (0.009, 16.68), (0.005, 16.75), (0.025, 16.75),
    (0.041, 16.7), (0.072, 16.73), (0.087, 16.75), (0.107, 16.78), (0.111, 16.87), (0.091, 16.89), (0.076, 16.85),
    (0.056, 16.82), (0.037, 16.89), (0.021, 16.91), (0.111, 16.96), (0.091, 17.01), (0.044, 17.04), (0.06, 17.06),
    (0.076, 17.11), (0.091, 17.15), (0.107, 17.2), (0.126, 17.22), (0.076, 17.25), (0.095, 17.3), (0.126, 17.34),
    (0.107, 17.41), (0.111, 17.48), (0.107, 17.58), (0.115, 17.89), (0.126, 17.96), (0.13, 18.02), (0.115, 18.24),
    (0.134, 18.31), (0.142, 18.33), (0.165, 18.26), (0.181, 18.05), (0.189, 18.09), (0.212, 17.89), (0.216, 17.98),
    (0.236, 17.86), (0.244, 17.6), (0.236, 17.77), (0.269, 18.17), (0.294, 18.1), (0.31, 18.17), (0.298, 18.05),
    (0.329, 17.3), (0.351, 17.3), (0.368, 17.22), (0.368, 17.41), (0.351, 17.56), (0.329, 17.67), (0.311, 17.72),
    (0.351, 17.72), (0.368, 17.63), (0.329, 17.91), (0.361, 18.24), (0.357, 18.37),
    (0.458, 18.34), (0.501, 18.71), (0.427, 18.67), (0.439, 18.69), (0.412, 18.78), (0.431, 18.86), (0.447, 18.88),
    (0.466, 19.0), (0.482, 18.95), (0.501, 19.05), (0.513, 19.07), (0.49, 19.16), (0.47, 19.16), (0.443, 19.05),
    (0.419, 19.0), (0.404, 19.16), (0.404, 19.35), (0.419, 19.38), (0.439, 19.28), (0.458, 19.33), (0.474, 19.45),
    (0.494, 19.38), (0.513, 19.45), (0.532, 19.35), (0.552, 19.3), (0.572, 19.28), (0.587, 19.21), (0.603, 19.19),
    (0.552, 18.93), (0.587, 18.88), (0.564, 19.02), (0.587, 19.05), (0.603, 19.3), (0.615, 19.4), (0.63, 19.26),
    (0.646, 19.21), (0.626, 19.12), (0.63, 19.49), (0.654, 19.59), (0.669, 19.54), (0.689, 19.35), (0.7, 19.45),
    (0.716, 19.54), (0.692, 19.64), (0.708, 19.68), (0.677, 19.78), (0.669, 19.92), (0.685, 19.97), (0.654, 19.85),
    (0.63, 19.9), (0.615, 19.78), (0.599, 19.92), (0.583, 19.87), (0.568, 19.97), (0.552, 19.87), (0.537, 19.92),
    (0.521, 19.83), (0.505, 19.9), (0.49, 19.78), (0.474, 19.87), (0.458, 19.97), (0.443, 19.9), (0.427, 19.92),
    (0.412, 19.87), (0.4, 19.97), (0.462, 20.11), (0.478, 20.13), (0.505, 20.06), (0.521, 20.23), (0.54, 20.18),
    (0.583, 20.3), (0.607, 20.13), (0.661, 20.11), (0.716, 20.01), (0.739, 20.01), (0.732, 18.64), (0.736, 18.78),
    (0.724, 18.88), (0.739, 19.02), (0.716, 19.16), (0.732, 19.3), (0.763, 19.16), (0.755, 19.45), (0.771, 19.54),
    (0.747, 19.66), (0.763, 19.78), (0.786, 19.68), (0.802, 19.83), (0.817, 19.92), (0.778, 19.92), (0.802, 19.45),
    (0.825, 19.64), (0.841, 19.78), (0.833, 19.35), (0.767, 18.17), (0.786, 18.22), (0.771, 18.41), (0.786, 18.55),
    (0.802, 18.74), (0.786, 18.93), (0.771, 18.97), (0.817, 18.88), (0.833, 18.64), (0.825, 18.5), (0.81, 18.36),
    (0.853, 18.36), (0.864, 18.22), (0.88, 18.31), (0.888, 18.5), (0.872, 18.64), (0.88, 18.81), (0.864, 18.97),
    (0.864, 19.3), (0.864, 19.45), (0.857, 18.12), (0.88, 18.08), (0.837, 19.21),
    (0.93, 16.3), (0.94, 16.5), (0.95, 16.7), (0.96, 16.4), (0.965, 16.12), (0.975, 16.3), (0.98, 16.6),
    (0.985, 16.85), (0.99, 16.2), (0.995, 16.45), (0.95, 16.95), (0.935, 16.75), (0.925, 16.55), (0.915, 17.0),
    (0.905, 17.35), (0.92, 17.25), (0.895, 17.0), (0.945, 16.15), (0.97, 16.9), (0.995, 16.65), (0.955, 17.05),
    (0.94, 17.1), (0.985, 16.05), (0.91, 17.6), (0.9, 17.85), (0.89, 18.0),
    (0.165, 19.75), (0.18, 19.3), (0.19, 19.55), (0.2, 19.85), (0.21, 19.15), (0.22, 19.6), (0.23, 19.4),
    (0.245, 19.75), (0.255, 19.2), (0.265, 19.95), (0.275, 19.3), (0.28, 19.7), (0.29, 19.9), (0.295, 19.45),
    (0.31, 19.25), (0.315, 19.95), (0.32, 19.6), (0.335, 19.4), (0.34, 19.85), (0.355, 19.2), (0.36, 19.7),
    (0.375, 19.45), (0.38, 19.95), (0.39, 19.6), (0.385, 20.1), (0.28, 20.05), (0.31, 20.1), (0.35, 20.15),
    (0.2, 18.9), (0.23, 18.6),
]
i_phase = [
    (0.052, 16.02), (0.011, 16.54), (0.054, 16.84), (0.064, 17.03), (0.116, 17.6), (0.146, 18.85), (0.159, 19.29),
    (0.18, 19.0), (0.216, 18.91), (0.216, 19.1), (0.241, 18.77), (0.27, 20.19), (0.361, 19.13), (0.387, 19.29),
    (0.4, 19.05), (0.457, 19.84), (0.478, 19.84), (0.509, 19.27), (0.564, 19.93), (0.577, 19.91), (0.702, 19.91),
    (0.72, 19.83), (0.767, 19.1), (0.752, 19.45), (0.795, 19.91), (0.82, 18.31), (0.853, 18.6), (0.871, 17.97),
    (0.888, 17.49), (0.908, 16.86), (0.939, 16.6), (0.943, 16.38), (0.955, 16.26), (0.994, 15.93), (0.998, 16.67),
    (0.999, 16.53),
]

bands = ["ZTF_g", "ZTF_r", "ZTF_i"]
dot_colors = {"ZTF_g": "blue", "ZTF_r": "red", "ZTF_i": "black"}
line_colors = {"ZTF_g": "blue", "ZTF_r": "red", "ZTF_i": "#474747"}
date_ticks = [250, 750, 1250, 1750]
date_labels = ["11 May 18", "23 Sep 19", "04 Feb 21", "19 Jun 22"]


def frame(points, band, cols):
    return pd.DataFrame(points, columns=cols).assign(band=band)


lc = pd.concat([frame(p, b, ["hjd", "mag"]) for p, b in zip([g_top, r_top, i_top], bands)], ignore_index=True)
pg = pd.concat([frame(p, b, ["freq", "power"]) for p, b in zip([g_pg, r_pg, i_pg], bands)], ignore_index=True)
fold_parts = []
for p, b in zip([g_phase, r_phase, i_phase], bands):
    d = frame(p, b, ["phase", "mag"])
    fold_parts += [d, d.assign(phase=d["phase"] + 1)]
fold = pd.concat(fold_parts, ignore_index=True)

sns.set_style("ticks")
plt.rcParams["font.family"] = ["DejaVu Serif"]
plt.rcParams.update({
    "xtick.direction": "in", "ytick.direction": "in",
    "xtick.labelsize": 14, "ytick.labelsize": 14,
    "xtick.major.pad": 5.5, "ytick.major.pad": 4.5,
    "axes.labelsize": 22, "axes.edgecolor": "#222222", "axes.linewidth": 1.1,
    "xtick.color": "#222222", "ytick.color": "#222222",
    "xtick.labelcolor": "black", "ytick.labelcolor": "black",
})

fig = plt.figure(figsize=(10.24, 14.41), dpi=100)
ax1 = fig.add_axes([0.0859, 0.6933, 0.9121, 0.2533])
ax2 = fig.add_axes([0.0859, 0.3699, 0.9121, 0.2519])
ax3 = fig.add_axes([0.0859, 0.0437, 0.9121, 0.2540])

# light curve
sns.scatterplot(data=lc, x="hjd", y="mag", hue="band", hue_order=bands, palette=dot_colors,
                s=32, linewidth=0, ax=ax1)
ax1.set_xlim(115.5, 2078)
ax1.set_ylim(20.5, 13.5)
ax1.set_xticks([250, 500, 750, 1000, 1250, 1500, 1750, 2000])
ax1.set_yticks([14, 15, 16, 17, 18, 19, 20])
ax1.set_xlabel("HJD - 2458000", labelpad=6)
ax1.set_ylabel("Brightness [mag]", labelpad=9)
ax1.tick_params(right=True, top=False)
ax1.legend(loc="upper right", fontsize=15, markerscale=0.6, handletextpad=0.9, borderpad=0.5)

top = ax1.twiny()
top.set_xlim(ax1.get_xlim())
top.set_xticks(date_ticks)
top.set_xticklabels(date_labels)
top.set_xticks([500, 1000, 1500, 2000], minor=True)
top.tick_params(axis="x", which="both", direction="in", length=6, pad=11)
top.set_xlabel("UT Date", labelpad=7)

# periodogram
sns.lineplot(data=pg, x="freq", y="power", hue="band", hue_order=bands, palette=line_colors,
             linewidth=2.0, estimator=None, sort=False, ax=ax2)
ax2.set_xlim(0, 0.15)
ax2.set_ylim(-0.033, 0.698)
ax2.set_xticks([0.0, 0.02, 0.04, 0.06, 0.08, 0.10, 0.12, 0.14])
ax2.set_xticklabels(["0.00", "0.02", "0.04", "0.06", "0.08", "0.10", "0.12", "0.14"])
ax2.set_yticks([0.0, 0.1, 0.2, 0.3, 0.4, 0.5, 0.6])
ax2.set_xlabel("Frequency [days$^{-1}$]", labelpad=12)
ax2.set_ylabel("Power", labelpad=10)
ax2.tick_params(right=True, top=True)
ax2.legend(loc="upper right", fontsize=15, handlelength=2.2, handletextpad=0.9, borderpad=0.5)

# phase-folded light curve
sns.scatterplot(data=fold, x="phase", y="mag", hue="band", hue_order=bands, palette=dot_colors,
                s=32, linewidth=0, legend=False, ax=ax3)
ax3.set_xlim(-0.1, 2.087)
ax3.set_ylim(20.55, 15.36)
ax3.set_xticks([0.0, 0.25, 0.5, 0.75, 1.0, 1.25, 1.5, 1.75, 2.0])
ax3.set_xticklabels(["0.00", "0.25", "0.50", "0.75", "1.00", "1.25", "1.50", "1.75", "2.00"])
ax3.set_yticks([16, 17, 18, 19, 20])
ax3.set_xlabel("Beat Phase", labelpad=4)
ax3.set_ylabel("Brightness [mag]", labelpad=9)
ax3.tick_params(right=True, top=True)

fig.savefig("out.png", dpi=100)
